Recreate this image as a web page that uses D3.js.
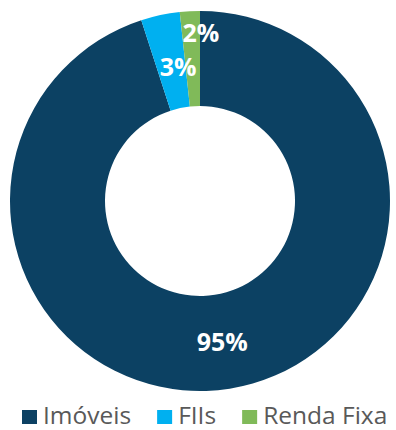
<!DOCTYPE html>
<html><head><meta charset="utf-8">
<script src="https://cdn.jsdelivr.net/npm/d3@7"></script>
<style>body{margin:0;background:#fff}svg{display:block}</style>
</head><body>
<svg id="c" width="396" height="430"></svg>
<script>
const categories = ["Imóveis", "FIIs", "Renda Fixa"];
const values = [95.0, 3.3, 1.7];
const labels = ["95%", "3%", "2%"];
const colors = ["#0c4163", "#00b0f0", "#80ba59"];

const svg = d3.select("#c");
const cx = 200, cy = 201, rOut = 190, rIn = 95;
const g = svg.append("g").attr("transform", `translate(${cx},${cy})`);
const data = categories.map((c, i) => ({c, v: values[i], label: labels[i], color: colors[i]}));
const pie = d3.pie().sort(null).value(d => d.v);
const arc = d3.arc().innerRadius(rIn).outerRadius(rOut);
const arcs = pie(data);
g.selectAll("path").data(arcs).join("path")
  .attr("d", arc).attr("fill", d => d.data.color);

// label nudges for the thin slices
const nudge = {"FIIs": [8, 5], "Renda Fixa": [8.5, -26]};
g.selectAll("text").data(arcs).join("text")
  .attr("transform", d => {
    const [x, y] = arc.centroid(d);
    const n = nudge[d.data.c] || [0, 0];
    return `translate(${x + n[0]},${y + n[1]})`;
  })
  .attr("text-anchor", "middle").attr("dy", "0.36em")
  .attr("fill", "#fff").attr("font-family", "Open Sans, sans-serif")
  .attr("font-weight", 700).attr("font-size", 25)
  .text(d => d.data.label);

// legend
const lg = svg.append("g").attr("transform", "translate(22,424)");
let x = 0;
data.forEach(d => {
  const it = lg.append("g").attr("transform", `translate(${x},0)`);
  it.append("rect").attr("x", 0).attr("y", -14).attr("width", 15).attr("height", 14).attr("fill", d.color);
  const t = it.append("text").attr("x", 21).attr("y", 0)
    .attr("font-family", "Open Sans, sans-serif").attr("font-size", 24.5)
    .attr("fill", "#595959").text(d.c);
  x += 21 + t.node().getComputedTextLength() + 26;
});
</script>
</body></html>
